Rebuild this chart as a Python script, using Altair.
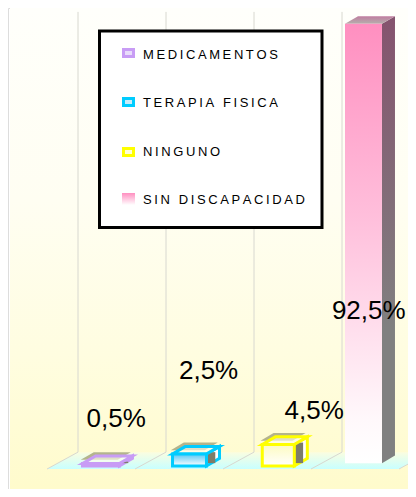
import altair as alt
import pandas as pd

categories = ["MEDICAMENTOS", "TERAPIA FISICA", "NINGUNO", "SIN DISCAPACIDAD"]
values = [0.5, 2.5, 4.5, 92.5]
labels = ["0,5%", "2,5%", "4,5%", "92,5%"]
label_slot = [0.40, 1.45, 2.65, 3.27]
label_level = [9.8, 19.9, 11.5, 32.4]
edge_colors = ["#c89cf5", "#00ccff", "#ffff00", "#ff8fc0"]
face_tops = ["#c9a8f0", "#55c8f5", "#fdfbc0", "#ff8fc0"]
grid_slots = [-0.034, 0.966, 1.966, 2.966, 3.966]
bar_slots = [0.017, 1.04, 2.06, 3.0]
bar_widths = [0.42, 0.386, 0.364, 0.42]
legend_pixel_rows = [47, 95, 144, 192]
swatch_tops = [41.5, 90.5, 140.5, 185]

FONT = "Liberation Sans"
W, H = 400, 481
x_scale = alt.Scale(domain=[-73 / 88, (W - 73) / 88], nice=False, zero=False)
y_scale = alt.Scale(domain=[(458 - H) / 4.78, 458 / 4.78], nice=False, zero=False)
DX, DY = 0.148, 1.6


def X(f="x"):
    return alt.X(f"{f}:Q", scale=x_scale, axis=None)


def Y(f="y"):
    return alt.Y(f"{f}:Q", scale=y_scale, axis=None)


def grad(stops, vertical=True):
    return alt.LinearGradient(
        gradient="linear",
        x1=0, y1=0,
        x2=0 if vertical else 1, y2=1 if vertical else 0,
        stops=[alt.GradientStop(color=c, offset=o) for c, o in stops],
    )


def rect(x0, x1, y0, y1, **kw):
    d = pd.DataFrame({"x": [x0], "x2": [x1], "y": [y0], "y2": [y1]})
    return alt.Chart(d).mark_rect(**kw).encode(x=X(), x2=alt.X2("x2"), y=Y(), y2=alt.Y2("y2"))


def side(x0, base, top, **kw):
    d = pd.DataFrame({
        "x": [x0, x0 + DX],
        "y": [top, top + DY],
        "y2": [base, base + DY],
    })
    return alt.Chart(d).mark_area(**kw).encode(x=X(), y=Y(), y2=alt.Y2("y2"))


def roof(x0, width, top, shift=0.0, **kw):
    d = pd.DataFrame({
        "y": [top + shift, top + DY + shift],
        "x": [x0, x0 + DX],
        "x2": [x0 + width, x0 + width + DX],
    })
    return alt.Chart(d).mark_area(orient="horizontal", **kw).encode(y=Y(), x=X(), x2=alt.X2("x2"))


layers = []

# page background
layers.append(
    alt.Chart(pd.DataFrame({"a": [0]})).mark_rect(
        color=grad([("#fffffb", 0), ("#fffef2", 0.4), ("#fffde0", 0.72), ("#fffbcc", 1)])
    ).encode(x=alt.value(2), x2=alt.value(W), y=alt.value(0), y2=alt.value(H))
)

# floor
layers.append(
    alt.Chart(pd.DataFrame({
        "y": [-0.63, 2.9],
        "x": [-0.386, -0.034],
        "x2": [3.61, 3.96],
    })).mark_area(
        orient="horizontal",
        color=grad([("#fbfde0", 0), ("#c8ffff", 1)]),
    ).encode(y=Y(), x=X(), x2=alt.X2("x2"))
)

# grid walls and floor lines
for g in grid_slots:
    layers.append(
        alt.Chart(pd.DataFrame({"x": [g], "y": [2.9], "y2": [95.0]}))
        .mark_rule(color="#d8d8d0", strokeWidth=1)
        .encode(x=X(), y=Y(), y2=alt.Y2("y2"))
    )
    layers.append(
        alt.Chart(pd.DataFrame({"x": [g - 0.352, g], "y": [-0.63, 2.9]}))
        .mark_line(color="#d8d8d0", strokeWidth=1)
        .encode(x=X(), y=Y())
    )

# hollow outlined boxes
for i in range(3):
    v, c, s, w = values[i], edge_colors[i], bar_slots[i], bar_widths[i]
    layers.append(roof(s - 0.02, w, v, shift=0.8, color="#b4b48c"))
    layers.append(side(s + w, 0, v, fill="#ffffff", stroke=c, strokeWidth=3))
    layers.append(
        rect(s + w + 0.01, s + w + 0.1, 0.6, v + 0.4, color="#7d7d6a")
    )
    layers.append(roof(s, w, v, fill="#fdfdf0", fillOpacity=0.6, stroke=c, strokeWidth=3))
    layers.append(
        rect(s, s + w, 0, v, color=grad([(face_tops[i], 0), ("#ffffff", 1)]),
             stroke=c, strokeWidth=3)
    )

# tall solid bar
s, w = bar_slots[3], bar_widths[3]
layers.append(
    side(s + w, 0.6, values[3],
         color=grad([("#85536e", 0), ("#808080", 0.7), ("#808080", 1)]))
)
layers.append(
    roof(s, w, values[3], color=grad([("#c07ca0", 0), ("#b4b0ac", 1)]))
)
layers.append(
    rect(s, s + w, 0.6, values[3],
         color=grad([("#ff8fc0", 0), ("#ffc0dc", 0.45), ("#fff8fb", 0.9), ("#ffffff", 1)]))
)

# value labels
layers.append(
    alt.Chart(pd.DataFrame({"x": label_slot, "y": label_level, "t": labels}))
    .mark_text(font=FONT, fontSize=26, color="#000000", align="center", baseline="middle")
    .encode(x=X(), y=Y(), text="t:N")
)

# legend box
layers.append(
    alt.Chart(pd.DataFrame({"a": [0]}))
    .mark_rect(fill="#ffffff", stroke="#000000", strokeWidth=3)
    .encode(x=alt.value(91.5), x2=alt.value(314), y=alt.value(23), y2=alt.value(219.5))
)


def spaced(s):
    return "\u2009".join(s)


for i, (name, c, row, top) in enumerate(zip(categories, edge_colors, legend_pixel_rows, swatch_tops)):
    d = pd.DataFrame({"t": [spaced(name)]})
    if i < 3:
        layers.append(
            alt.Chart(d).mark_rect(fill="#e8dcfa" if i == 0 else "#c8ecfa" if i == 1 else "#ffffd8",
                                   stroke=c, strokeWidth=3)
            .encode(x=alt.value(115.5), x2=alt.value(125.5), y=alt.value(top), y2=alt.value(top + 7))
        )
    else:
        layers.append(
            alt.Chart(d).mark_rect(color=grad([("#ff8fc0", 0), ("#ffffff", 1)]))
            .encode(x=alt.value(114), x2=alt.value(127), y=alt.value(top), y2=alt.value(top + 12))
        )
    layers.append(
        alt.Chart(d).mark_text(font=FONT, fontSize=13, color="#000000", align="left", baseline="middle")
        .encode(x=alt.value(135), y=alt.value(row), text="t:N")
    )

chart = (
    alt.layer(*layers)
    .properties(width=W, height=H, padding=0, autosize=alt.AutoSizeParams(type="none"))
    .configure_view(stroke=None)
    .configure(background="#ffffff")
)

chart.save("out.html", embed_options={"renderer": "svg", "actions": False})
